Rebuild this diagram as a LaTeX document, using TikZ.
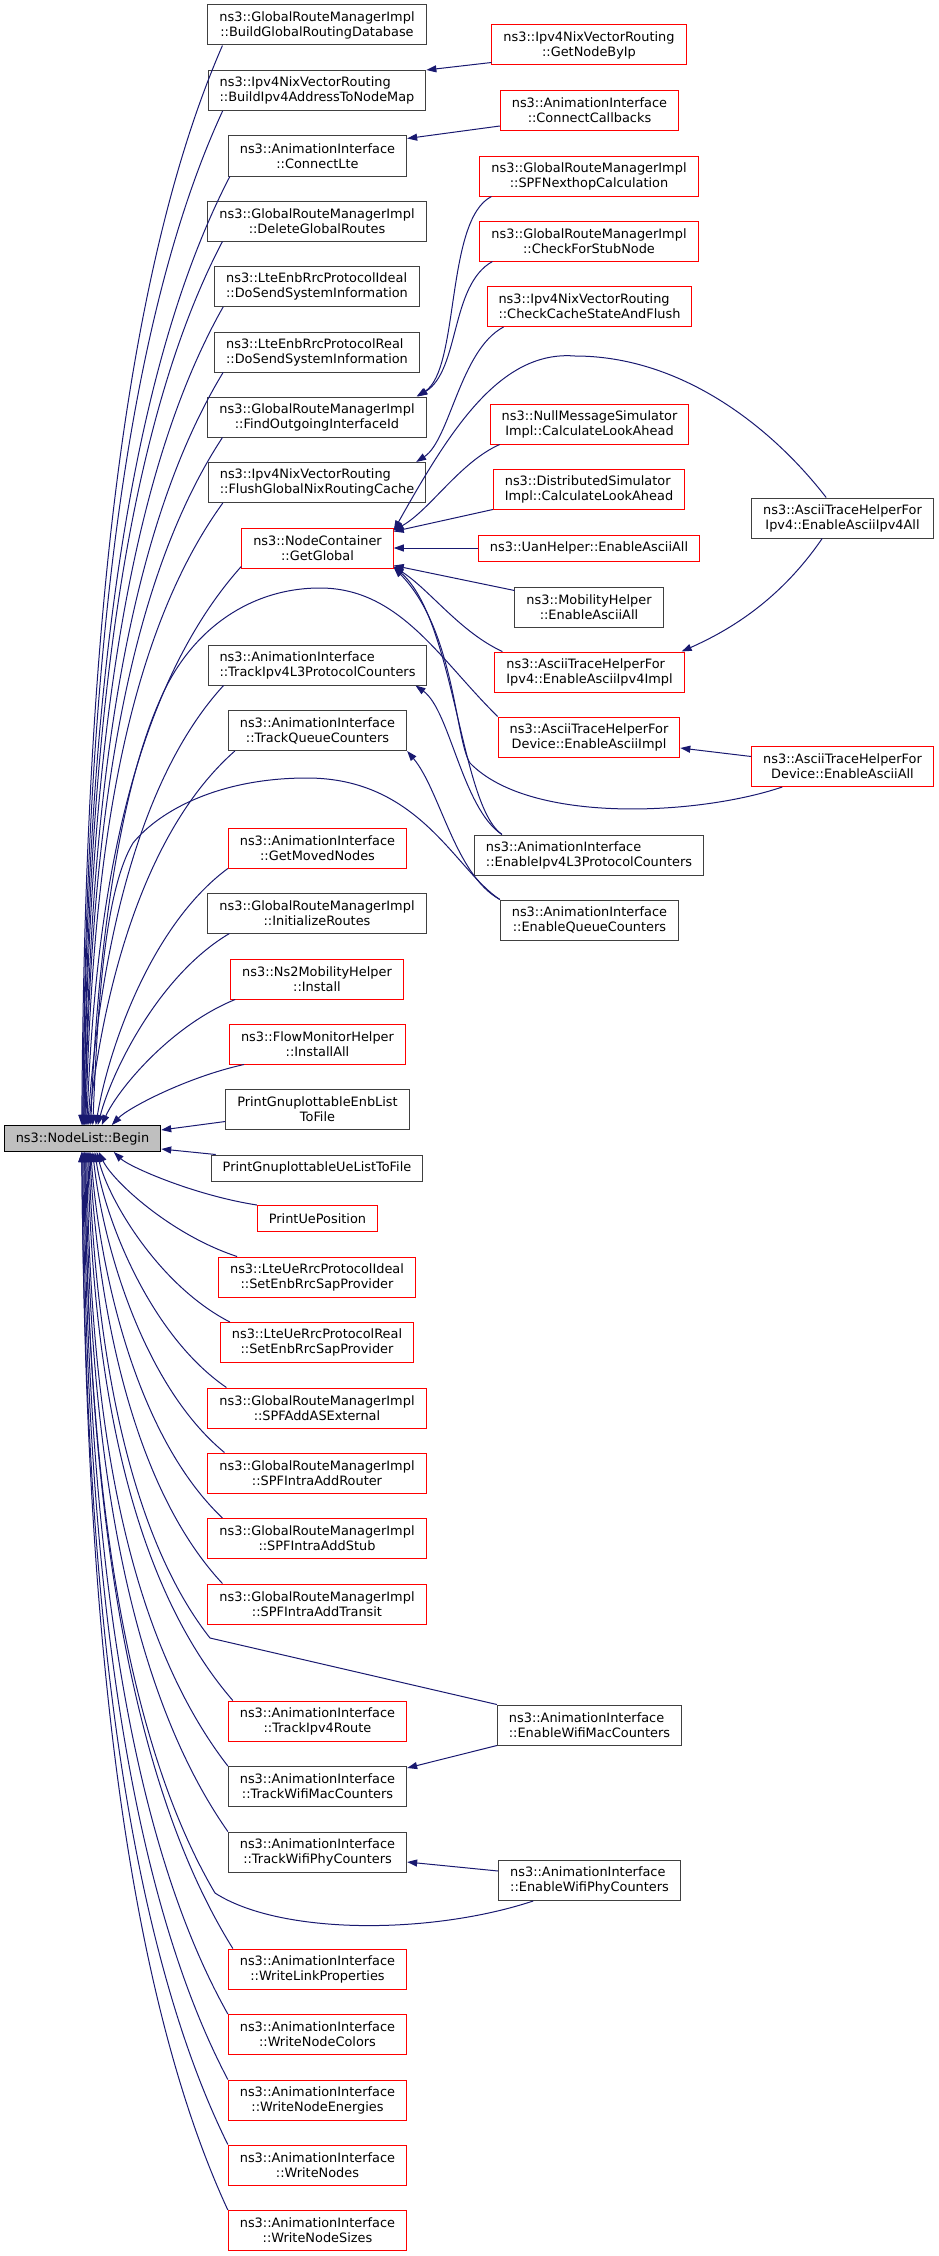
\documentclass[tikz,border=0pt]{standalone}
\usepackage{fontspec}
\setmainfont{DejaVu Sans}
\usetikzlibrary{arrows.meta}
\definecolor{midnight}{HTML}{191970}
\definecolor{grey25}{HTML}{404040}
\definecolor{grey75}{HTML}{BFBFBF}
\tikzset{
  fn/.style={draw=grey25, fill=white, line width=1pt, inner xsep=11.5pt, inner ysep=0pt,
    minimum height=40pt, align=center, font=\fontsize{12.9}{15}\selectfont},
  fnred/.style={fn, draw=red},
  oneline/.style={minimum height=26pt},
  call/.style={draw=midnight, line width=1pt, -{Triangle[length=10pt,width=7pt]}},
}
\begin{document}
\begin{tikzpicture}[x=1pt, y=-1pt]
      \useasboundingbox (0,0) rectangle (939,2256);

      % called function
      \node[fn, oneline, fill=grey75, draw=black] (begin) at (82.5,1138.5) {ns3::NodeList::Begin};

      % direct callers
      \node[fn] (buildgrdb) at (317,25) {ns3::GlobalRouteManagerImpl\\::BuildGlobalRoutingDatabase};
      \node[fn, align=left] (buildaddrmap) at (317,90.5) {ns3::Ipv4NixVectorRouting\\::BuildIpv4AddressToNodeMap};
      \node[fn] (connectlte) at (317.5,156) {ns3::AnimationInterface\\::ConnectLte};
      \node[fn] (deleteroutes) at (317,221) {ns3::GlobalRouteManagerImpl\\::DeleteGlobalRoutes};
      \node[fn, align=left] (enbideal) at (317,286.5) {ns3::LteEnbRrcProtocolIdeal\\::DoSendSystemInformation};
      \node[fn, align=left] (enbreal) at (317,352) {ns3::LteEnbRrcProtocolReal\\::DoSendSystemInformation};
      \node[fn] (findiface) at (317,417) {ns3::GlobalRouteManagerImpl\\::FindOutgoingInterfaceId};
      \node[fn, align=left] (flushcache) at (317,482.5) {ns3::Ipv4NixVectorRouting\\::FlushGlobalNixRoutingCache};
      \node[fnred] (getglobal) at (317.5,548) {ns3::NodeContainer\\::GetGlobal};
      \node[fn, align=left] (trackipv4l3) at (317.5,665) {ns3::AnimationInterface\\::TrackIpv4L3ProtocolCounters};
      \node[fn] (trackqueue) at (317.5,730.5) {ns3::AnimationInterface\\::TrackQueueCounters};
      \node[fnred] (getmoved) at (317.5,848) {ns3::AnimationInterface\\::GetMovedNodes};
      \node[fn] (initroutes) at (317,913) {ns3::GlobalRouteManagerImpl\\::InitializeRoutes};
      \node[fnred] (ns2install) at (317,979) {ns3::Ns2MobilityHelper\\::Install};
      \node[fnred] (flowinstall) at (317.5,1044) {ns3::FlowMonitorHelper\\::InstallAll};
      \node[fn] (enblist) at (317.5,1109) {PrintGnuplottableEnbList\\ToFile};
      \node[fn, oneline] (uelist) at (317,1168) {PrintGnuplottableUeListToFile};
      \node[fnred, oneline] (uepos) at (317.5,1218.5) {PrintUePosition};
      \node[fnred] (ueideal) at (317,1277) {ns3::LteUeRrcProtocolIdeal\\::SetEnbRrcSapProvider};
      \node[fnred] (uereal) at (317,1342.5) {ns3::LteUeRrcProtocolReal\\::SetEnbRrcSapProvider};
      \node[fnred] (spfext) at (317,1408) {ns3::GlobalRouteManagerImpl\\::SPFAddASExternal};
      \node[fnred] (spfrouter) at (317,1473) {ns3::GlobalRouteManagerImpl\\::SPFIntraAddRouter};
      \node[fnred] (spfstub) at (317,1538.5) {ns3::GlobalRouteManagerImpl\\::SPFIntraAddStub};
      \node[fnred] (spftransit) at (317,1604) {ns3::GlobalRouteManagerImpl\\::SPFIntraAddTransit};
      \node[fnred] (trackroute) at (317.5,1721) {ns3::AnimationInterface\\::TrackIpv4Route};
      \node[fn] (trackmac) at (317.5,1786.5) {ns3::AnimationInterface\\::TrackWifiMacCounters};
      \node[fn] (trackphy) at (317.5,1852) {ns3::AnimationInterface\\::TrackWifiPhyCounters};
      \node[fnred] (writelink) at (317.5,1969) {ns3::AnimationInterface\\::WriteLinkProperties};
      \node[fnred] (writecolors) at (317.5,2034.5) {ns3::AnimationInterface\\::WriteNodeColors};
      \node[fnred] (writeenergies) at (317.5,2100) {ns3::AnimationInterface\\::WriteNodeEnergies};
      \node[fnred] (writenodes) at (317.5,2165) {ns3::AnimationInterface\\::WriteNodes};
      \node[fnred] (writesizes) at (317.5,2230.5) {ns3::AnimationInterface\\::WriteNodeSizes};

      % second level
      \node[fnred] (getnodebyip) at (589,45) {ns3::Ipv4NixVectorRouting\\::GetNodeByIp};
      \node[fnred] (connectcb) at (589.5,110.5) {ns3::AnimationInterface\\::ConnectCallbacks};
      \node[fnred] (spfnexthop) at (589,176) {ns3::GlobalRouteManagerImpl\\::SPFNexthopCalculation};
      \node[fnred] (checkstub) at (589,241) {ns3::GlobalRouteManagerImpl\\::CheckForStubNode};
      \node[fnred, align=left] (checkcache) at (589.5,306.5) {ns3::Ipv4NixVectorRouting\\::CheckCacheStateAndFlush};
      \node[fnred] (nullmsg) at (589.5,424) {ns3::NullMessageSimulator\\Impl::CalculateLookAhead};
      \node[fnred, align=left] (distsim) at (589,489) {ns3::DistributedSimulator\\Impl::CalculateLookAhead};
      \node[fnred, oneline] (uanascii) at (589,548) {ns3::UanHelper::EnableAsciiAll};
      \node[fn] (mobascii) at (589,607) {ns3::MobilityHelper\\::EnableAsciiAll};
      \node[fnred, align=left] (ipv4impl) at (589.5,672) {ns3::AsciiTraceHelperFor\\Ipv4::EnableAsciiIpv4Impl};
      \node[fnred] (devimpl) at (589,737) {ns3::AsciiTraceHelperFor\\Device::EnableAsciiImpl};
      \node[fn, align=left] (enableipv4l3) at (589,855) {ns3::AnimationInterface\\::EnableIpv4L3ProtocolCounters};
      \node[fn] (enablequeue) at (589.5,920) {ns3::AnimationInterface\\::EnableQueueCounters};
      \node[fn, align=left] (enablemac) at (589.5,1725) {ns3::AnimationInterface\\::EnableWifiMacCounters};
      \node[fn, align=left] (enablephy) at (589.5,1880.5) {ns3::AnimationInterface\\::EnableWifiPhyCounters};

      % third level
      \node[fn] (ipv4all) at (842.5,518) {ns3::AsciiTraceHelperFor\\Ipv4::EnableAsciiIpv4All};
      \node[fnred] (devall) at (842.5,766.5) {ns3::AsciiTraceHelperFor\\Device::EnableAsciiAll};

      % callers above Begin
      \draw[call] ([xshift=15pt]buildgrdb.south west) .. controls (100,326) and (84,802) .. ([xshift=78pt]begin.north west);
      \draw[call] ([xshift=15pt]buildaddrmap.south west) .. controls (101,374) and (85,821) .. ([xshift=79pt]begin.north west);
      \draw[call] ([xshift=2pt]connectlte.south west) .. controls (102,423) and (86,841) .. ([xshift=79pt]begin.north west);
      \draw[call] ([xshift=15pt]deleteroutes.south west) .. controls (102,471) and (87,860) .. ([xshift=80pt]begin.north west);
      \draw[call] ([xshift=9pt]enbideal.south west) .. controls (103,519) and (88,880) .. ([xshift=80pt]begin.north west);
      \draw[call] ([xshift=9pt]enbreal.south west) .. controls (104,568) and (89,900) .. ([xshift=81pt]begin.north west);
      \draw[call] ([xshift=15pt]findiface.south west) .. controls (105,616) and (90,919) .. ([xshift=81pt]begin.north west);
      \draw[call] ([xshift=15pt]flushcache.south west) .. controls (106,664) and (91,939) .. ([xshift=82pt]begin.north west);
      \draw[call] ([yshift=2pt]getglobal.south west) .. controls (114,709) and (93.5,959) .. ([xshift=83pt]begin.north west);
      \draw[call] ([xshift=16pt]trackipv4l3.south west) .. controls (125,793) and (97,996) .. ([xshift=84pt]begin.north west);
      \draw[call] ([xshift=7pt]trackqueue.south west) .. controls (135,839) and (100,1016) .. ([xshift=85pt]begin.north west);
      \draw[call] (getmoved.south west) .. controls (150,926) and (108,1051) .. ([xshift=92pt]begin.north west);
      \draw[call] ([xshift=22pt]initroutes.south west) .. controls (159,975) and (112,1071) .. ([xshift=94pt]begin.north west);
      \draw[call] ([xshift=5pt]ns2install.south west) .. controls (170,1026) and (117.5,1090) .. ([xshift=98pt]begin.north west);
      \draw[call] ([xshift=15pt]flowinstall.south west) .. controls (187,1077) and (128,1108) .. ([xshift=108pt]begin.north west);
      \draw[call] ([yshift=8pt]enblist.south west) -- ([yshift=-5pt]begin.north east);

      % long arcs into Begin
      \draw[call] (devimpl.north west) .. controls (440,660) and (400,588) .. (320,588)
        .. controls (250,588) and (190,630) .. (160,700)
        .. controls (120,790) and (97,950) .. ([xshift=87pt]begin.north west);
      \draw[call] (enablequeue.north west) .. controls (455,870) and (420,778) .. (307,778)
        .. controls (220,778) and (160,810) .. (133,843)
        .. controls (105,890) and (98,1000) .. ([xshift=89pt]begin.north west);

      % callers below Begin
      \draw[call] ([xshift=5pt]uelist.north west) -- ([yshift=3pt]begin.south east);
      \draw[call] (uepos.north west) .. controls (193,1195) and (129,1166.5) .. ([xshift=110pt]begin.south west);
      \draw[call] ([xshift=19pt]ueideal.north west) .. controls (170.6,1234.7) and (112.6,1181) .. ([xshift=95pt]begin.south west);
      \draw[call] ([xshift=10pt]uereal.north west) .. controls (159,1285.6) and (108.7,1200) .. ([xshift=93pt]begin.south west);
      \draw[call] ([xshift=19pt]spfext.north west) .. controls (149.8,1335) and (105.2,1219) .. ([xshift=91pt]begin.south west);
      \draw[call] ([xshift=17pt]spfrouter.north west) .. controls (141,1383.5) and (101.8,1238.6) .. ([xshift=89pt]begin.south west);
      \draw[call] ([xshift=15pt]spfstub.north west) .. controls (132,1432) and (98.4,1258.6) .. ([xshift=87pt]begin.south west);
      \draw[call] ([xshift=15pt]spftransit.north west) .. controls (124.5,1478.7) and (96,1278.5) .. ([xshift=86pt]begin.south west);
      \draw[call] (enablemac.north west) -- (210,1638) .. controls (115,1517) and (93.5,1295) .. ([xshift=85pt]begin.south west);
      \draw[call] ([xshift=5pt]trackroute.north west) .. controls (112,1561) and (91.6,1315) .. ([xshift=84pt]begin.south west);
      \draw[call] (trackmac.north west) .. controls (104.7,1607) and (89.4,1336) .. ([xshift=83pt]begin.south west);
      \draw[call] (trackphy.north west) .. controls (104,1655) and (88.4,1355) .. ([xshift=82pt]begin.south west);
      \draw[call] ([xshift=35pt]enablephy.south west) .. controls (430,1935) and (280,1935) .. (215,1893)
        .. controls (101.5,1700) and (87.3,1373.6) .. ([xshift=81pt]begin.south west);
      \draw[call] ([xshift=5pt]writelink.north west) .. controls (103.6,1741.5) and (87.5,1390) .. ([xshift=81pt]begin.south west);
      \draw[call] (writecolors.north west) .. controls (102,1790) and (86.4,1410) .. ([xshift=80pt]begin.south west);
      \draw[call] (writeenergies.north west) .. controls (101.3,1839) and (85.4,1430) .. ([xshift=79pt]begin.south west);
      \draw[call] (writenodes.north west) .. controls (100.4,1887) and (84.5,1449.5) .. ([xshift=78pt]begin.south west);
      \draw[call] (writesizes.north west) .. controls (100.4,1935) and (84.5,1469) .. ([xshift=78pt]begin.south west);

      % second level into first level
      \draw[call] ([yshift=3pt]getnodebyip.south west) -- (buildaddrmap.north east);
      \draw[call] ([yshift=5pt]connectcb.south west) -- ([yshift=-3pt]connectlte.north east);
      \draw[call] ([xshift=12pt]spfnexthop.south west) .. controls (445,220) and (460,370) .. ([xshift=-10pt]findiface.north east);
      \draw[call] ([xshift=13pt]checkstub.south west) .. controls (450,285) and (460,370) .. ([xshift=-9pt]findiface.north east);
      \draw[call] ([xshift=17pt]checkcache.south west) .. controls (460,350) and (450,440) .. ([xshift=-10pt]flushcache.north east);
      \draw[call] ([xshift=10pt]nullmsg.south west) .. controls (460,462) and (430,510) .. ([yshift=-3pt]getglobal.north east);
      \draw[call] (distsim.south west) -- ([yshift=-4pt]getglobal.north east);
      \draw[call] (uanascii.west) -- (getglobal.east);
      \draw[call] ([yshift=-4pt]mobascii.north west) -- ([yshift=3pt]getglobal.south east);
      \draw[call] ([xshift=8pt]ipv4impl.north west) .. controls (460,632) and (430,590) .. ([yshift=2pt]getglobal.south east);
      \draw[call] ([xshift=28pt]enableipv4l3.north west) .. controls (460,805) and (455,620) .. ([yshift=2pt]getglobal.south east);
      \draw[call] ([xshift=28pt]enableipv4l3.north west) .. controls (462,808) and (450,710) .. ([xshift=-12pt]trackipv4l3.south east);
      \draw[call] (enablequeue.north west) .. controls (455,875) and (440,790) .. (trackqueue.south east);
      \draw[call] (enablemac.south west) -- ([yshift=-2pt]trackmac.north east);
      \draw[call] ([yshift=9.5pt]enablephy.west) -- ([yshift=-10pt]trackphy.east);

      % third level
      \draw[call] ([xshift=75pt]ipv4all.north west) .. controls (770,425) and (680,356) .. (575,356)
        .. controls (500,350) and (450,430) .. ([yshift=-3pt]getglobal.north east);
      \draw[call] ([xshift=71pt]ipv4all.south west) .. controls (780,600) and (730,630) .. ([xshift=-3pt]ipv4impl.north east);
      \draw[call] ([yshift=10pt]devall.west) -- ([yshift=-11pt]devimpl.east);
      \draw[call] ([xshift=31pt]devall.south west) .. controls (700,815) and (530,825) .. (470,763)
        .. controls (455,740) and (455,630) .. ([yshift=1pt]getglobal.south east);

\end{tikzpicture}
\end{document}
